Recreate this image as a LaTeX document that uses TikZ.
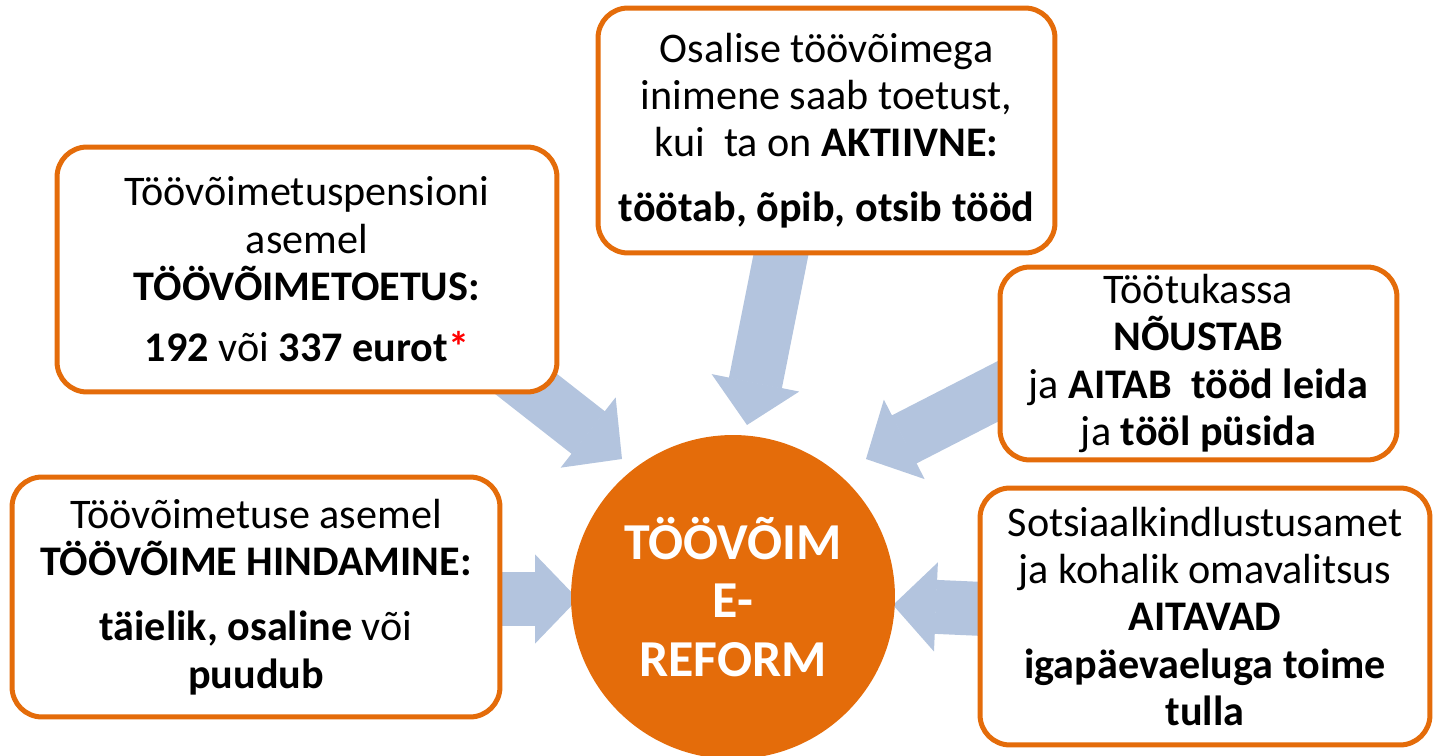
\documentclass[tikz,border=0pt]{standalone}
\usepackage{fontspec}
\setmainfont{Carlito}
\usetikzlibrary{arrows.meta,calc,backgrounds}
\definecolor{boxorange}{RGB}{228,108,10}
\definecolor{arrowblue}{RGB}{179,196,222}

\begin{document}
\begin{tikzpicture}[x=0.02cm,y=-0.02cm,
	infobox/.style={draw=boxorange,line width=0.1cm,fill=white,rounded corners=0.6cm,align=center,inner sep=2pt,font=\fontsize{24}{26.9}\selectfont},
	reform/.style={circle,fill=boxorange,minimum size=6.48cm,align=center,inner sep=0pt,text=white,font=\bfseries\fontsize{29.5}{33.4}\selectfont},
	blockarrow/.style={draw=arrowblue,line width=1.08cm,-{Triangle[length=0.86cm,width=1.78cm,line width=1pt]}}]
	\useasboundingbox (0,0) rectangle (1433,756);
	
	\node[infobox,minimum width=10cm,minimum height=4.9cm] (pension) at (307,269.5) {Töövõimetuspensioni\\ asemel\\ \textbf{TÖÖVÕIMETOETUS:}\\[8pt] \textbf{192} või \textbf{337 eurot}\textcolor{red}{\textbf{*}}};
	\node[infobox,minimum width=9.14cm,minimum height=4.9cm] (osaline) at (826.5,130.5) {Osalise töövõimega\\ inimene saab toetust,\\ kui\ \ ta on \textbf{AKTIIVNE:}\\[10pt] \textbf{töötab, õpib, otsib tööd}};
	\node[infobox,minimum width=7.94cm,minimum height=3.86cm] (kassa) at (1198.5,363.5) {Töötukassa\\ \textbf{NÕUSTAB}\\ ja \textbf{AITAB\ \ tööd leida}\\ ja \textbf{tööl püsida}};
	\node[infobox,minimum width=9.76cm,minimum height=4.8cm] (hindamine) at (256,597) {Töövõimetuse asemel\\ \textbf{TÖÖVÕIME HINDAMINE:}\\[10pt] \textbf{täielik, osaline} või\\ \textbf{puudub}};
	\node[infobox,minimum width=9cm,minimum height=5.14cm] (sotsiaal) at (1205,616.5) {Sotsiaalkindlustusamet\\ ja kohalik omavalitsus\\ \textbf{AITAVAD}\\ \textbf{igapäevaeluga toime}\\ \textbf{tulla}};
	
	\coordinate (s1) at ($(pension.south east)+(-57,-29)$);
	\coordinate (s2) at ($(osaline.south)+(-41.5,-21)$);
	\coordinate (s3) at ($(kassa.west)+(40,7.5)$);
	\coordinate (s4) at ($(hindamine.east)+(-30,2)$);
	\coordinate (s5) at ($(sotsiaal.west)+(40,-6)$);
	\coordinate (t1) at (622,459);
	\coordinate (t2) at (747,425);
	\coordinate (t3) at (866,459);
	\coordinate (t4) at (578,599);
	\coordinate (t5) at (893,605);
	
	\begin{scope}[on background layer]
		\draw[blockarrow] (s1) -- (t1);
		\draw[blockarrow] (s2) -- (t2);
		\draw[blockarrow] (s3) -- (t3);
		\draw[blockarrow] (s4) -- (t4);
		\draw[blockarrow] (s5) -- (t5);
	\end{scope}
	
	\node[reform] (reform) at (733,597) {TÖÖVÕIM\\ E-\\ REFORM};
\end{tikzpicture}
\end{document}
